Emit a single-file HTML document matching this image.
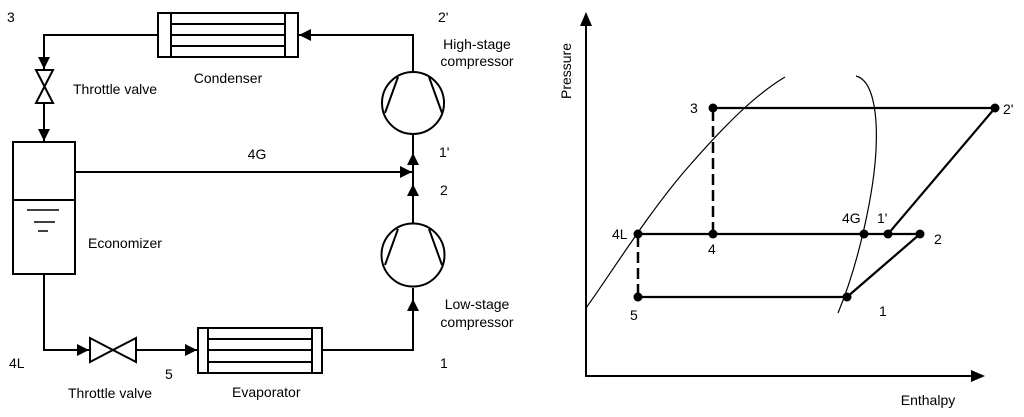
<!DOCTYPE html>
<html><head><meta charset="utf-8"><style>
html,body{margin:0;padding:0;background:#fff;}
svg{display:block;}
text{font-family:"Liberation Sans",Arial,sans-serif;font-size:14px;fill:#000;}
</style></head><body>
<svg width="1024" height="417" viewBox="0 0 1024 417" xmlns="http://www.w3.org/2000/svg">
<defs>
<marker id="a" markerWidth="13" markerHeight="12" refX="12" refY="6" orient="auto" markerUnits="userSpaceOnUse">
<path d="M0,0 L12,6 L0,12 z" fill="#000"/></marker>
</defs>
<g stroke="#000" stroke-width="2" fill="none">
<rect x="158" y="13" width="140" height="44" fill="#fff"/>
<line x1="171" y1="13" x2="171" y2="57"/><line x1="285" y1="13" x2="285" y2="57"/>
<line x1="171" y1="24" x2="285" y2="24"/><line x1="171" y1="35" x2="285" y2="35"/><line x1="171" y1="46" x2="285" y2="46"/>
<polyline points="413,72 413,35 299,35" marker-end="url(#a)"/>
<polyline points="158,35 44,35 44,69" marker-end="url(#a)"/>
<path d="M36,70 L53,70 L36,103 L53,103 Z" fill="#fff"/>
<line x1="44" y1="103" x2="44" y2="141" marker-end="url(#a)"/>
<rect x="13" y="142" width="62" height="132" fill="#fff"/>
<line x1="13" y1="200" x2="75" y2="200"/>
<line x1="27" y1="210" x2="59" y2="210" stroke-width="1.5"/>
<line x1="34" y1="222" x2="55" y2="222" stroke-width="1.5"/>
<line x1="38" y1="231" x2="48" y2="231" stroke-width="1.5"/>
<line x1="75" y1="172" x2="412" y2="172" marker-end="url(#a)"/>
<polyline points="44,274 44,350 89,350" marker-end="url(#a)"/>
<path d="M90,338 L90,362 L136,338 L136,362 Z" fill="#fff"/>
<line x1="136" y1="350" x2="197" y2="350" marker-end="url(#a)"/>
<rect x="198" y="328" width="124" height="45" fill="#fff"/>
<line x1="208" y1="328" x2="208" y2="373"/><line x1="312" y1="328" x2="312" y2="373"/>
<line x1="208" y1="339" x2="312" y2="339"/><line x1="208" y1="350" x2="312" y2="350"/><line x1="208" y1="362" x2="312" y2="362"/>
<polyline points="322,350 413,350 413,299" marker-end="url(#a)"/>
<line x1="413" y1="299" x2="413" y2="288"/>
<circle cx="413" cy="255" r="31.5" fill="#fff"/>
<line x1="398" y1="229" x2="385" y2="265"/><line x1="429" y1="229" x2="442" y2="265"/>
<line x1="413" y1="223" x2="413" y2="184" marker-end="url(#a)"/>
<line x1="413" y1="184" x2="413" y2="153" marker-end="url(#a)"/>
<line x1="413" y1="153" x2="413" y2="134"/>
<circle cx="413" cy="103" r="31" fill="#fff"/>
<line x1="398" y1="77" x2="385" y2="113"/><line x1="429" y1="77" x2="442" y2="113"/>
</g>
<text x="7" y="22">3</text>
<text x="438" y="22">2'</text>
<text x="477" y="49" text-anchor="middle">High-stage</text>
<text x="477" y="66" text-anchor="middle">compressor</text>
<text x="228" y="83" text-anchor="middle">Condenser</text>
<text x="73" y="94">Throttle valve</text>
<text x="257" y="159" text-anchor="middle">4G</text>
<text x="439" y="157">1'</text>
<text x="440" y="195">2</text>
<text x="88" y="248">Economizer</text>
<text x="477" y="309" text-anchor="middle">Low-stage</text>
<text x="477" y="327" text-anchor="middle">compressor</text>
<text x="9" y="368">4L</text>
<text x="165" y="379">5</text>
<text x="68" y="398">Throttle valve</text>
<text x="232" y="397">Evaporator</text>
<text x="440" y="368">1</text>

<g stroke="#000" fill="none">
<polyline points="586,22 586,376 975,376" stroke-width="2"/>
<path d="M586,12 L580,26 L592,26 Z" fill="#000" stroke="none"/>
<path d="M985,376 L971,370 L971,382 Z" fill="#000" stroke="none"/>
<path d="M586,308 C610,275 650,210 690,165 C725,125 755,95 785,77" stroke-width="1.2"/>
<path d="M856,76 C872,80 878,110 876,150 C874,190 860,260 838,313" stroke-width="1.2"/>
<g stroke-width="2.2">
<line x1="713" y1="108" x2="995" y2="108"/>
<line x1="638" y1="234" x2="920" y2="234"/>
<line x1="638" y1="297" x2="847" y2="297"/>
<line x1="847" y1="297" x2="920" y2="234"/>
<line x1="888" y1="234" x2="995" y2="108"/>
<line x1="713" y1="110" x2="713" y2="234" stroke-dasharray="11,5" stroke-width="2.5"/>
<line x1="638" y1="236" x2="638" y2="297" stroke-dasharray="11,5" stroke-width="2.5"/>
</g>
</g>
<g fill="#000">
<circle cx="713" cy="108" r="4.5"/><circle cx="995" cy="108" r="4.5"/>
<circle cx="638" cy="234" r="4.5"/><circle cx="713" cy="234" r="4.5"/>
<circle cx="864" cy="234" r="4.5"/><circle cx="888" cy="234" r="4.5"/>
<circle cx="920" cy="234" r="4.5"/><circle cx="638" cy="297" r="4.5"/>
<circle cx="847" cy="297" r="4.5"/>
</g>
<text x="0" y="0" transform="translate(571,71) rotate(-90)" text-anchor="middle">Pressure</text>
<text x="690" y="113">3</text>
<text x="1003" y="114">2'</text>
<text x="612" y="239">4L</text>
<text x="708" y="254">4</text>
<text x="842" y="223">4G</text>
<text x="877" y="223">1'</text>
<text x="934" y="244">2</text>
<text x="630" y="320">5</text>
<text x="879" y="316">1</text>
<text x="928" y="405" text-anchor="middle">Enthalpy</text>
</svg>
</body></html>
